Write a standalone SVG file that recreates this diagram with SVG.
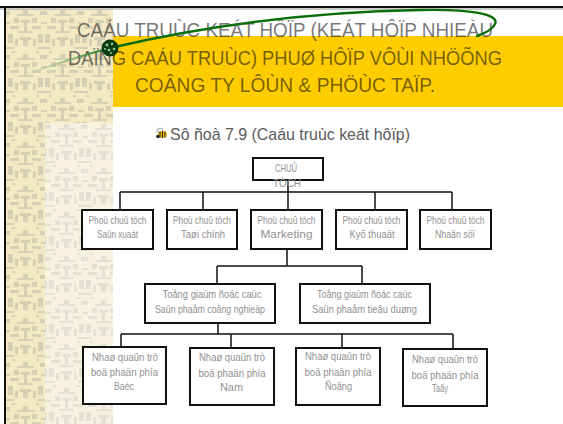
<svg xmlns="http://www.w3.org/2000/svg" width="563" height="424" viewBox="0 0 563 424">
  <style>
    .title { font-family: "Liberation Sans", Arial, sans-serif; font-size: 19.5px; fill: #000; fill-opacity: 0.55; text-anchor: middle; }
    .sub { font-family: "Liberation Sans", Arial, sans-serif; font-size: 17px; fill: #5a5a5a; }
    .box { fill: #fff; stroke: #111; stroke-width: 2; }
    .lbl { font-family: "Liberation Sans", Arial, sans-serif; font-size: 11px; fill: #909090; text-anchor: middle; }
    .wire { fill: none; stroke: #111; stroke-width: 1.5; }
  </style>
  <defs>
    <!-- blocky damask motif for the side strip -->
    <path id="motif" d="M16 1h5v6h-5z M10 5h17v2H10z M7 9h5v5H7z M25 9h5v5h-5z M14 11h9v3h-9z M17 14h3v9h-3z M3 17h9v3H3z M25 17h9v3h-9z M11 22h15v2H11z M1 25h5v9H1z M31 25h5v9h-5z M13 28h11v3H13z M16 31h5v6h-5z M0 38h7v2H0z M30 38h7v2h-7z M8 30h3v7H8z M26 30h3v7h-3z M33 2h4v4h-4z M0 2h3v4H0z M34 13h3v2h-3z M0 13h3v2H0z M5 42h3v2H5z M29 42h3v2h-3z"/>
    <pattern id="damask" width="37" height="44" patternUnits="userSpaceOnUse" x="7" y="9">
      <rect width="37" height="44" fill="#F3E9C3"/>
      <use href="#motif" fill="#D5CFB6"/>
    </pattern>
    <pattern id="damaskPale" width="37" height="44" patternUnits="userSpaceOnUse" x="48" y="123">
      <rect width="37" height="44" fill="#F7F2DF"/>
      <use href="#motif" fill="#E5E1D2"/>
    </pattern>
    <linearGradient id="swooshFade" gradientUnits="userSpaceOnUse" x1="18" y1="77" x2="110" y2="48">
      <stop offset="0" stop-color="#e9e6c6" stop-opacity="0.3"/>
      <stop offset="1" stop-color="#0b6e0b"/>
    </linearGradient>
  </defs>

  <!-- background -->
  <rect width="563" height="424" fill="#fff"/>
  <rect x="6" y="9" width="107" height="415" fill="url(#damask)"/>
  <rect x="45" y="123" width="68" height="301" fill="url(#damaskPale)"/>
  <rect x="113" y="36" width="450" height="71" fill="#FFCC00"/>
  <!-- frame -->
  <rect x="0" y="6" width="563" height="2" fill="#111"/>
  <rect x="0" y="8.5" width="563" height="1" fill="#999"/>
  <rect x="4" y="6" width="2" height="418" fill="#111"/>

  <!-- heading -->
  <g id="heading">
    <text class="title" x="285" y="37" textLength="416" lengthAdjust="spacingAndGlyphs">CAÁU TRUÙC KEÁT HÔÏP (KEÁT HÔÏP NHIEÀU</text>
    <text class="title" x="285" y="65" textLength="434" lengthAdjust="spacingAndGlyphs">DAÏNG CAÁU TRUÙC) PHUØ HÔÏP VÔÙI NHÖÕNG</text>
    <text class="title" x="285" y="92" textLength="300" lengthAdjust="spacingAndGlyphs">COÂNG TY LÔÙN &amp; PHÖÙC TAÏP.</text>
  </g>

  <!-- green swoosh with bead -->
  <g id="swoosh">
    <path d="M18 77 C50 66 80 56 110 48" fill="none" stroke="url(#swooshFade)" stroke-width="2.2" stroke-linecap="round"/>
    <path d="M110 48 C200 27 300 12 420 10 C470 9 500 14 495 24 C492 30 486 33 477 36" fill="none" stroke="#0b6e0b" stroke-width="2.4" stroke-linecap="round"/>
    <circle cx="110" cy="48" r="8" fill="#0b3f12" stroke="#062a08" stroke-width="1"/>
    <g fill="#9cc79a">
      <circle cx="107" cy="45" r="1.4"/>
      <circle cx="112" cy="44" r="1.2"/>
      <circle cx="114" cy="49" r="1.3"/>
      <circle cx="109" cy="50" r="1.3"/>
      <circle cx="105" cy="49" r="1"/>
      <circle cx="111" cy="53" r="1"/>
    </g>
  </g>

  <!-- caption with bee bullet -->
  <g id="caption">
    <g id="bee">
      <ellipse cx="160" cy="130.5" rx="3.2" ry="2.4" fill="#eeeef4" stroke="#777" stroke-width="0.6"/>
      <ellipse cx="162.5" cy="134.5" rx="4.5" ry="3.5" fill="#f2b900"/>
      <path d="M160 131.5v6 M162.5 131v7 M165 131.5v6" stroke="#222" stroke-width="1"/>
      <circle cx="158" cy="136.5" r="1.8" fill="#222"/>
    </g>
    <text class="sub" x="170" y="140" textLength="240" lengthAdjust="spacingAndGlyphs">Sô ñoà 7.9 (Caáu truùc keát hôïp)</text>
  </g>

  <!-- connectors -->
  <g id="connectors" class="wire">
    <path d="M288 180 V192 M120 192 H452 M120 192 V209 M203 192 V209 M288 192 V209 M375 192 V209 M452 192 V209"/>
    <path d="M287 250 V266 M217 266 H362 M217 266 V283 M362 266 V283"/>
    <path d="M218 324 V334 M121 334 H453 M121 334 V346 M231 334 V347 M342 334 V347 M453 334 V348"/>
  </g>

  <!-- level 1 -->
  <g id="n-chairman">
    <rect class="box" x="253" y="158" width="70" height="22"/>
    <text class="lbl" x="286" y="172" textLength="22" lengthAdjust="spacingAndGlyphs">CHUÛ</text>
    <text class="lbl" x="287" y="187" textLength="28" lengthAdjust="spacingAndGlyphs">TÒCH</text>
  </g>

  <!-- level 2 -->
  <g id="n-vp-production">
    <rect class="box" x="82" y="210" width="71" height="39"/>
    <text class="lbl" x="117.5" y="224" textLength="58" lengthAdjust="spacingAndGlyphs">Phoù chuû tòch</text>
    <text class="lbl" x="117.5" y="238" textLength="41" lengthAdjust="spacingAndGlyphs">Saûn xuaát</text>
  </g>
  <g id="n-vp-finance">
    <rect class="box" x="167" y="210" width="70" height="39"/>
    <text class="lbl" x="202" y="224" textLength="58" lengthAdjust="spacingAndGlyphs">Phoù chuû tòch</text>
    <text class="lbl" x="203" y="238" textLength="44" lengthAdjust="spacingAndGlyphs">Taøi chính</text>
  </g>
  <g id="n-vp-marketing">
    <rect class="box" x="251" y="210" width="71" height="39"/>
    <text class="lbl" x="286.5" y="224" textLength="58" lengthAdjust="spacingAndGlyphs">Phoù chuû tòch</text>
    <text class="lbl" x="286.5" y="238" textLength="52" lengthAdjust="spacingAndGlyphs">Marketing</text>
  </g>
  <g id="n-vp-engineering">
    <rect class="box" x="336" y="210" width="71" height="39"/>
    <text class="lbl" x="371.5" y="224" textLength="58" lengthAdjust="spacingAndGlyphs">Phoù chuû tòch</text>
    <text class="lbl" x="372" y="238" textLength="45" lengthAdjust="spacingAndGlyphs">Kyõ thuaät</text>
  </g>
  <g id="n-vp-hr">
    <rect class="box" x="420" y="210" width="71" height="39"/>
    <text class="lbl" x="455.5" y="224" textLength="58" lengthAdjust="spacingAndGlyphs">Phoù chuû tòch</text>
    <text class="lbl" x="455" y="238" textLength="40" lengthAdjust="spacingAndGlyphs">Nhaân söï</text>
  </g>

  <!-- level 3 -->
  <g id="n-gm-industrial">
    <rect class="box" x="145" y="284" width="130" height="39"/>
    <text class="lbl" x="212" y="298" textLength="99" lengthAdjust="spacingAndGlyphs">Toång giaùm ñoác caùc</text>
    <text class="lbl" x="210" y="313" textLength="110" lengthAdjust="spacingAndGlyphs">Saûn phaåm coâng nghieäp</text>
  </g>
  <g id="n-gm-consumer">
    <rect class="box" x="300" y="284" width="130" height="39"/>
    <text class="lbl" x="364.5" y="298" textLength="95" lengthAdjust="spacingAndGlyphs">Toång giaùm ñoác caùc</text>
    <text class="lbl" x="364.5" y="313" textLength="105" lengthAdjust="spacingAndGlyphs">Saûn phaåm tieâu duøng</text>
  </g>

  <!-- level 4 -->
  <g id="n-region-north">
    <rect class="box" x="83" y="347" width="83" height="57"/>
    <text class="lbl" x="125" y="361" textLength="66" lengthAdjust="spacingAndGlyphs">Nhaø quaûn trò</text>
    <text class="lbl" x="124.5" y="376" textLength="67" lengthAdjust="spacingAndGlyphs">boä phaän phía</text>
    <text class="lbl" x="124" y="390" textLength="20" lengthAdjust="spacingAndGlyphs">Baéc</text>
  </g>
  <g id="n-region-south">
    <rect class="box" x="190" y="348" width="84" height="57"/>
    <text class="lbl" x="232" y="361" textLength="66" lengthAdjust="spacingAndGlyphs">Nhaø quaûn trò</text>
    <text class="lbl" x="232" y="377" textLength="67" lengthAdjust="spacingAndGlyphs">boä phaän phía</text>
    <text class="lbl" x="231.5" y="391" textLength="23" lengthAdjust="spacingAndGlyphs">Nam</text>
  </g>
  <g id="n-region-east">
    <rect class="box" x="296" y="348" width="84" height="57"/>
    <text class="lbl" x="338" y="360" textLength="66" lengthAdjust="spacingAndGlyphs">Nhaø quaûn trò</text>
    <text class="lbl" x="338" y="376" textLength="67" lengthAdjust="spacingAndGlyphs">boä phaän phía</text>
    <text class="lbl" x="338.5" y="390" textLength="27" lengthAdjust="spacingAndGlyphs">Ñoâng</text>
  </g>
  <g id="n-region-west">
    <rect class="box" x="403" y="349" width="84" height="57"/>
    <text class="lbl" x="445" y="363" textLength="66" lengthAdjust="spacingAndGlyphs">Nhaø quaûn trò</text>
    <text class="lbl" x="445" y="379" textLength="67" lengthAdjust="spacingAndGlyphs">boä phaän phía</text>
    <text class="lbl" x="440" y="392" textLength="16" lengthAdjust="spacingAndGlyphs">Taây</text>
  </g>
</svg>
